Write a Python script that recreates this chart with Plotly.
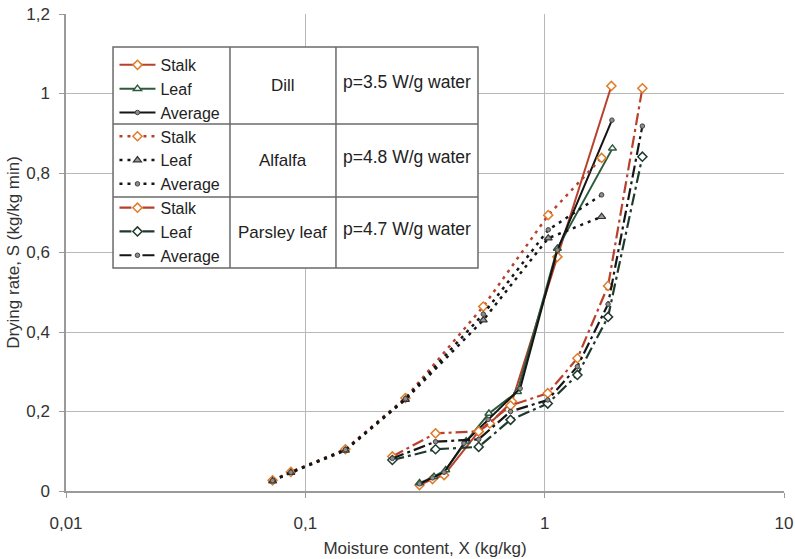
import plotly.graph_objects as go

# ---------------- data ----------------
dill_stalk_x = [0.30, 0.34, 0.38, 0.53, 0.59, 0.73, 1.13, 1.90]
dill_stalk_y = [0.015, 0.030, 0.040, 0.150, 0.170, 0.225, 0.589, 1.019]
dill_leaf_x = [0.30, 0.345, 0.386, 0.47, 0.585, 0.77, 1.13, 1.92]
dill_leaf_y = [0.020, 0.036, 0.053, 0.125, 0.195, 0.250, 0.610, 0.862]
dill_avg_x = [0.30, 0.34, 0.38, 0.46, 0.58, 0.79, 1.13, 1.91]
dill_avg_y = [0.018, 0.033, 0.047, 0.120, 0.180, 0.258, 0.606, 0.933]

alf_x = [0.073, 0.087, 0.147, 0.262, 0.554, 1.035, 1.73]
alf_stalk_y = [0.027, 0.048, 0.105, 0.234, 0.464, 0.694, 0.838]
alf_leaf_y = [0.025, 0.046, 0.102, 0.230, 0.430, 0.636, 0.690]
alf_avg_y = [0.026, 0.047, 0.104, 0.232, 0.445, 0.657, 0.745]

pars_x = [0.231, 0.35, 0.53, 0.72, 1.03, 1.37, 1.84, 2.56]
pars_stalk_y = [0.087, 0.145, 0.150, 0.215, 0.246, 0.334, 0.516, 1.013]
pars_leaf_y = [0.078, 0.105, 0.111, 0.179, 0.220, 0.292, 0.438, 0.841]
pars_avg_y = [0.082, 0.124, 0.130, 0.200, 0.229, 0.313, 0.470, 0.918]

x_tick_vals = [0.01, 0.1, 1, 10]
x_tick_text = ["0,01", "0,1", "1", "10"]
y_tick_vals = [0, 0.2, 0.4, 0.6, 0.8, 1.0, 1.2]
y_tick_text = ["0", "0,2", "0,4", "0,6", "0,8", "1", "1,2"]

species = ["Dill", "Alfalfa", "Parsley leaf"]
powers = ["p=3.5 W/g water", "p=4.8 W/g water", "p=4.7 W/g water"]

# ---------------- styles ----------------
RED = "#b8412c"
ORANGE = "#e07b28"
GREEN = "#2d5a3f"
BLACK = "#151515"
GREY = "#8c8c8c"
FONT = "Liberation Sans, Arial, sans-serif"
DOTTED = "3px,5px"
DASHDOT = "12px,4px,3px,4px"

stalk_marker = dict(symbol="diamond", size=7, color="white", line=dict(color=ORANGE, width=1.5))
avg_marker = dict(symbol="circle", size=4.5, color=GREY, line=dict(color="#444", width=1))

fig = go.Figure()

def add(x, y, name, group, color, dash, marker, width=2):
    fig.add_trace(go.Scatter(
        x=x, y=y, name=name, mode="lines+markers", legendgroup=group,
        line=dict(color=color, width=width, dash=dash),
        marker=marker,
    ))

add(dill_stalk_x, dill_stalk_y, "Stalk", "dill", RED, "solid", stalk_marker)
add(dill_leaf_x, dill_leaf_y, "Leaf", "dill", GREEN, "solid",
    dict(symbol="triangle-up", size=7, color="white", line=dict(color=GREEN, width=1.5)))
add(dill_avg_x, dill_avg_y, "Average", "dill", BLACK, "solid", avg_marker)

add(alf_x, alf_stalk_y, "Stalk", "alf", RED, DOTTED, stalk_marker, width=2.5)
add(alf_x, alf_leaf_y, "Leaf", "alf", BLACK, DOTTED,
    dict(symbol="triangle-up", size=7, color="#9a9a9a", line=dict(color="#333", width=1.2)), width=2.5)
add(alf_x, alf_avg_y, "Average", "alf", BLACK, DOTTED, avg_marker, width=2.5)

add(pars_x, pars_stalk_y, "Stalk", "pars", RED, DASHDOT, stalk_marker, width=2.2)
add(pars_x, pars_leaf_y, "Leaf", "pars", "#1f3a2c", DASHDOT,
    dict(symbol="diamond", size=7, color="white", line=dict(color="#1f3a2c", width=1.5)), width=2.2)
add(pars_x, pars_avg_y, "Average", "pars", BLACK, DASHDOT, avg_marker, width=2.2)

# ---------------- table-style legend box ----------------
L, C1, C2, R = 0.0655, 0.2284, 0.3760, 0.5738
T, R1, R2, B = 0.9308, 0.7694, 0.6164, 0.4675
BORDER = "#6a6a6a"
shapes = [
    dict(type="rect", xref="paper", yref="paper", x0=L, x1=R, y0=B, y1=T,
         fillcolor="white", line=dict(color=BORDER, width=1.5), layer="above"),
    dict(type="line", xref="paper", yref="paper", x0=C1, x1=C1, y0=B, y1=T,
         line=dict(color=BORDER, width=1.5), layer="above"),
    dict(type="line", xref="paper", yref="paper", x0=C2, x1=C2, y0=B, y1=T,
         line=dict(color=BORDER, width=1.5), layer="above"),
    dict(type="line", xref="paper", yref="paper", x0=L, x1=R, y0=R1, y1=R1,
         line=dict(color=BORDER, width=1.5), layer="above"),
    dict(type="line", xref="paper", yref="paper", x0=L, x1=R, y0=R2, y1=R2,
         line=dict(color=BORDER, width=1.5), layer="above"),
]
rows = [(T, R1), (R1, R2), (R2, B)]
annotations = []
for (top, bot), sp, pw in zip(rows, species, powers):
    cy = (top + bot) / 2
    annotations.append(dict(text=sp, xref="paper", yref="paper", x=(C1 + C2) / 2, y=cy,
                            xanchor="center", yanchor="middle",
                            showarrow=False, font=dict(size=17, color="#222", family=FONT)))
    annotations.append(dict(text=pw, xref="paper", yref="paper", x=(C2 + R) / 2, y=cy + 0.008,
                            xanchor="center", yanchor="middle",
                            showarrow=False, font=dict(size=17.5, color="#222", family=FONT)))

fig.update_layout(
    width=795, height=559,
    margin=dict(l=66, r=11, t=14, b=68),
    paper_bgcolor="white", plot_bgcolor="white",
    font=dict(family=FONT, size=15, color="#333"),
    shapes=shapes, annotations=annotations,
    showlegend=True,
    legend=dict(x=L + 0.002, y=T - 0.002, xanchor="left", yanchor="top",
                bgcolor="rgba(0,0,0,0)", borderwidth=0,
                font=dict(size=16, color="#222", family=FONT),
                tracegroupgap=0, itemwidth=36, traceorder="normal"),
    xaxis=dict(type="log", range=[-2, 1], tickvals=x_tick_vals, ticktext=x_tick_text,
               showgrid=True, gridcolor="#b8b8b8", gridwidth=1, automargin=False,
               showline=True, linecolor="#9a9a9a", linewidth=1.5,
               ticks="outside", ticklen=5, tickcolor="#9a9a9a", ticklabelstandoff=11,
               zeroline=False, tickfont=dict(size=17),
               title=dict(text="Moisture content, X (kg/kg)", standoff=10,
                          font=dict(size=17, color="#333"))),
    yaxis=dict(range=[0, 1.2], tickvals=y_tick_vals, ticktext=y_tick_text,
               showgrid=True, gridcolor="#b8b8b8", gridwidth=1, automargin=False,
               showline=True, linecolor="#9a9a9a", linewidth=1.5,
               ticks="outside", ticklen=5, tickcolor="#9a9a9a", ticklabelstandoff=6,
               zeroline=False, tickfont=dict(size=17),
               title=dict(text="Drying rate, S (kg/kg min)", standoff=2,
                          font=dict(size=17, color="#333"))),
)

fig.write_html("out.html", config={"displayModeBar": False},
               post_script="document.body.style.margin='0px';document.body.style.overflow='hidden';")
